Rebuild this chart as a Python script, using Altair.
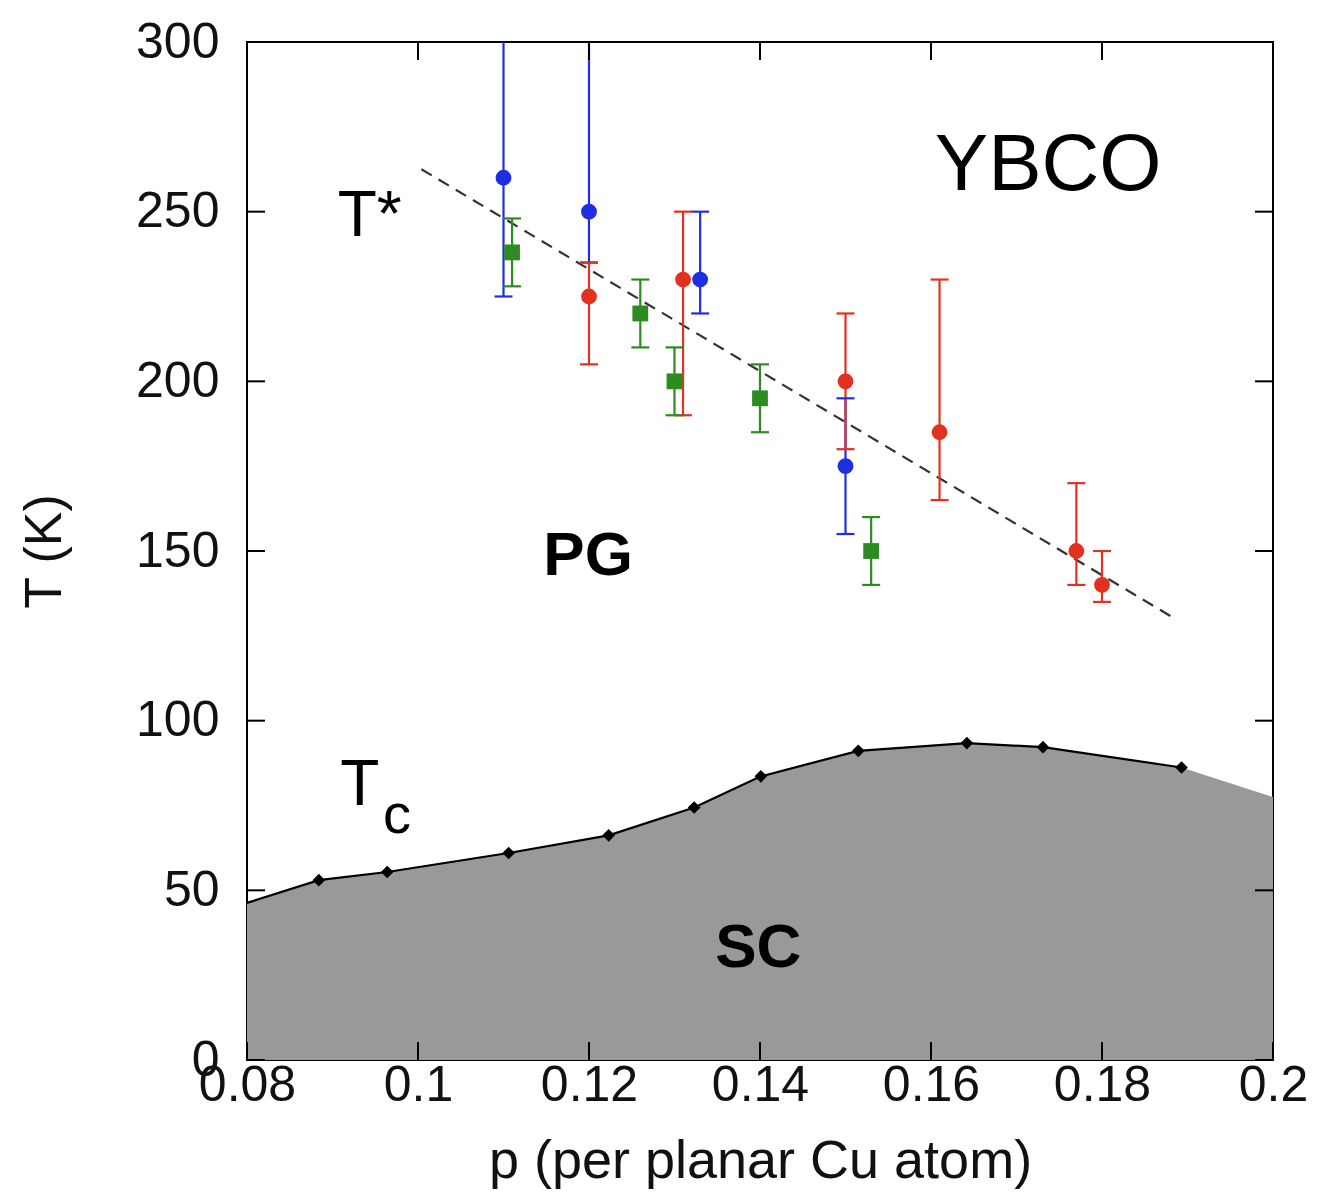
import altair as alt
import pandas as pd

# ---- data ----
# Tc dome (diamonds)
tc_p = [0.0884, 0.0964, 0.1106, 0.1223, 0.1323, 0.1401, 0.1515, 0.1642, 0.1731, 0.1893]
tc_T = [53.0, 55.4, 61.0, 66.2, 74.4, 83.6, 91.1, 93.4, 92.2, 86.2]
# Tc boundary values at the plot edges (fill continues to the frame)
edge_p = [0.08, 0.2]
edge_T = [46.3, 77.5]

# T* guide (dashed)
guide_p = [0.1004, 0.1885]
guide_T = [262.5, 130.1]

# blue circles
blue_p = [0.110, 0.120, 0.133, 0.150]
blue_T = [260, 250, 230, 175]
blue_lo = [225, 235, 220, 155]
blue_hi = [320, 320, 250, 195]

# red circles
red_p = [0.120, 0.131, 0.150, 0.161, 0.177, 0.180]
red_T = [225, 230, 200, 185, 150, 140]
red_lo = [205, 190, 180, 165, 140, 135]
red_hi = [235, 250, 220, 230, 170, 150]

# green squares
green_p = [0.111, 0.126, 0.130, 0.140, 0.153]
green_T = [238, 220, 200, 195, 150]
green_lo = [228, 210, 190, 185, 140]
green_hi = [248, 230, 210, 205, 160]

x_ticks = [0.08, 0.10, 0.12, 0.14, 0.16, 0.18, 0.20]
y_ticks = [0, 50, 100, 150, 200, 250, 300]

# annotation labels: text, p, T
ann_text = ["YBCO", "T*", "T", "c", "PG", "SC"]
ann_p = [0.1737, 0.0906, 0.0909, 0.0959, 0.1199, 0.1398]
ann_T = [263.5, 242.9, 75.1, 66.8, 142.8, 27.4]

# ---- build tables ----
W, H = 1026, 1018
FONT = "Liberation Sans"
BLUE, RED, GREEN = "#1f2fe0", "#e2321f", "#2e8b22"

xs = alt.Scale(domain=[0.08, 0.2], nice=False, zero=False)
ys = alt.Scale(domain=[0, 300], nice=False, zero=False)

fill_df = pd.DataFrame({"p": [edge_p[0]] + tc_p + [edge_p[1]],
                        "T": [edge_T[0]] + tc_T + [edge_T[1]]})
line_df = pd.DataFrame({"p": [edge_p[0]] + tc_p, "T": [edge_T[0]] + tc_T})
tc_df = pd.DataFrame({"p": tc_p, "T": tc_T})
guide_df = pd.DataFrame({"p": guide_p, "T": guide_T})


def series(name, p, t, lo, hi):
    return pd.DataFrame({"s": name, "p": p, "T": t, "lo": lo, "hi": hi})


pts = pd.concat([series("blue", blue_p, blue_T, blue_lo, blue_hi),
                 series("red", red_p, red_T, red_lo, red_hi),
                 series("green", green_p, green_T, green_lo, green_hi)],
                ignore_index=True)
caps = pd.concat([pts[["s", "p"]].assign(c=pts["lo"]),
                  pts[["s", "p"]].assign(c=pts["hi"])], ignore_index=True)

color = alt.Color("s:N", scale=alt.Scale(domain=["blue", "red", "green"],
                                         range=[BLUE, RED, GREEN]), legend=None)

x_main = alt.X("p:Q", scale=xs,
               axis=alt.Axis(values=x_ticks, format="~g", title="p (per planar Cu atom)",
                             ticks=False, domain=False, grid=False,
                             labelFont=FONT, labelFontSize=50, labelColor="#111",
                             labelPadding=0, labelFlush=False, labelOverlap=False,
                             titleFont=FONT, titleFontSize=54, titleFontWeight="normal",
                             titleColor="#111", titlePadding=24))
y_main = alt.Y("T:Q", scale=ys,
               axis=alt.Axis(values=y_ticks, title="T (K)",
                             ticks=False, domain=False, grid=False,
                             labelFont=FONT, labelFontSize=50, labelColor="#111",
                             labelPadding=28, labelFlush=False, labelOverlap=False,
                             titleFont=FONT, titleFontSize=52, titleFontWeight="normal",
                             titleColor="#111", titlePadding=64))

xn = alt.X("p:Q", scale=xs, axis=None)
yn = alt.Y("T:Q", scale=ys, axis=None)

area = alt.Chart(fill_df).mark_area(color="#999999", opacity=1).encode(
    x=x_main, y=y_main)
tc_line = alt.Chart(line_df).mark_line(color="black", strokeWidth=2.2).encode(
    x=xn, y=yn)
tc_pts = alt.Chart(tc_df).mark_point(shape="diamond", filled=True, color="black", size=160, opacity=1).encode(
    x=xn, y=yn)
guide = alt.Chart(guide_df).mark_line(color="#333333", strokeWidth=2.2, strokeDash=[12, 8]).encode(
    x=xn, y=yn)

bars = alt.Chart(pts).mark_rule(strokeWidth=2.2, clip=True).encode(
    x=xn, y=alt.Y("lo:Q", scale=ys, axis=None), y2="hi:Q", color=color)
cap_marks = alt.Chart(caps).mark_tick(orient="horizontal", size=18, thickness=2.2, clip=True, opacity=1).encode(
    x=xn, y=alt.Y("c:Q", scale=ys, axis=None), color=color)
circles = alt.Chart(pts).transform_filter("datum.s != 'green'").mark_point(
    shape="circle", filled=True, size=250, opacity=1).encode(x=xn, y=yn, color=color)
squares = alt.Chart(pts).transform_filter("datum.s == 'green'").mark_point(
    shape="square", filled=True, size=250, opacity=1).encode(x=xn, y=yn, color=color)

ann = pd.DataFrame({"t": ann_text, "p": ann_p, "T": ann_T})


def label(txt, size, weight="normal", align="center"):
    return alt.Chart(ann).transform_filter(alt.datum.t == txt).mark_text(
        font=FONT, fontSize=size, fontWeight=weight, align=align, baseline="alphabetic",
        color="black").encode(x=xn, y=yn, text="t:N")


ybco = alt.Chart(ann).transform_filter(alt.datum.t == "YBCO").mark_text(
    font=FONT, fontSize=80, align="center", baseline="middle", color="black").encode(
    x=xn, y=yn, text="t:N")
tstar = label("T*", 64, align="left")
tc_T_lbl = label("T", 64, align="left")
tc_c_lbl = label("c", 56, align="left")
pg = label("PG", 62, weight="bold")
sc = label("SC", 62, weight="bold")

xt = pd.DataFrame({"p": x_ticks})
yt = pd.DataFrame({"T": y_ticks})
tick_style = dict(color="black", strokeWidth=2)
tb = alt.Chart(xt).mark_rule(**tick_style).encode(x=xn, y=alt.value(H), y2=alt.value(H - 18))
tt = alt.Chart(xt).mark_rule(**tick_style).encode(x=xn, y=alt.value(0), y2=alt.value(18))
tl = alt.Chart(yt).mark_rule(**tick_style).encode(y=yn, x=alt.value(0), x2=alt.value(18))
tr = alt.Chart(yt).mark_rule(**tick_style).encode(y=yn, x=alt.value(W), x2=alt.value(W - 18))

chart = alt.layer(
    area, tc_line, tc_pts, guide, bars, cap_marks, circles, squares,
    ybco, tstar, tc_T_lbl, tc_c_lbl, pg, sc, tb, tt, tl, tr
).resolve_axis(x="independent", y="independent").properties(
    width=W, height=H,
    autosize=alt.AutoSizeParams(type="none"),
    padding={"left": 239, "top": 34, "right": 50, "bottom": 130},
    background="white",
).configure_view(stroke="black", strokeWidth=2)

chart.save("out.html", embed_options={"renderer": "svg", "actions": False})
